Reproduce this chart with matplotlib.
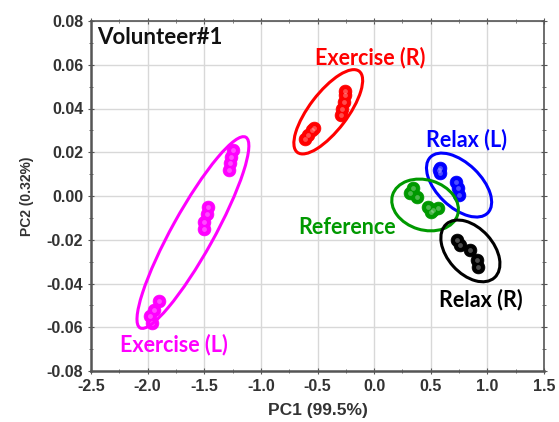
import matplotlib
matplotlib.use("Agg")
import matplotlib.pyplot as plt
import matplotlib.transforms as mtransforms
from matplotlib.patches import Ellipse
import numpy as np

# ---------------- data ----------------
groups = ["Exercise (L)", "Exercise (R)", "Relax (L)", "Reference", "Relax (R)"]
colors = ["#ff00ff", "#ff0000", "#0000ff", "#009900", "#000000"]

exL_x = [-1.25, -1.26, -1.27, -1.28, -1.47, -1.48, -1.50, -1.50, -1.90, -1.94, -1.98, -1.96]
exL_y = [0.021, 0.018, 0.015, 0.012, -0.005, -0.008, -0.012, -0.015, -0.048, -0.052, -0.055, -0.058]

exR_x = [-0.61, -0.58, -0.55, -0.53, -0.29, -0.28, -0.27, -0.26, -0.26]
exR_y = [0.026, 0.028, 0.030, 0.031, 0.037, 0.040, 0.043, 0.046, 0.048]

rlL_x = [0.58, 0.58, 0.57, 0.72, 0.74, 0.75]
rlL_y = [0.013, 0.0105, 0.012, 0.0064, 0.0037, 0.0005]

ref_x = [0.32, 0.34, 0.38, 0.48, 0.52, 0.56, 0.50]
ref_y = [0.0014, 0.0037, -0.0005, -0.005, -0.0064, -0.0055, -0.0072]

rlR_x = [0.73, 0.76, 0.85, 0.91, 0.92]
rlR_y = [-0.020, -0.0224, -0.0247, -0.0293, -0.0325]

xs = [exL_x, exR_x, rlL_x, ref_x, rlR_x]
ys = [exL_y, exR_y, rlL_y, ref_y, rlR_y]

# confidence ellipses: centre (data units)
ell_cx = [-1.60, -0.405, 0.75, 0.45, 0.85]
ell_cy = [-0.0167, 0.0385, 0.005, -0.0041, -0.0251]
# semi-axes in pixels, angle in degrees (screen space)
ell_a = [109, 51, 40, 34, 36]
ell_b = [21, 19, 22, 25, 23]
ell_ang = [61, 52.7, -44, -17, -48]

# label positions
lab_x = [-1.77, -0.036, 0.816, -0.24, 0.944]
lab_y = [-0.0681, 0.0631, 0.0256, -0.0146, -0.0471]

xticks = [-2.5, -2.0, -1.5, -1.0, -0.5, 0.0, 0.5, 1.0, 1.5]
yticks = [-0.08, -0.06, -0.04, -0.02, 0.00, 0.02, 0.04, 0.06, 0.08]

# ---------------- figure ----------------
DPI = 100
fig = plt.figure(figsize=(5.59, 4.22), dpi=DPI)
ax = fig.add_axes([91 / 559, 1 - 371 / 422, 453 / 559, 350 / 422])

ax.set_xlim(-2.5, 1.5)
ax.set_ylim(-0.08, 0.08)
ax.set_xticks(xticks)
ax.set_yticks(yticks)
ax.set_xticks(np.arange(-2.5, 1.51, 0.25), minor=True)
ax.set_yticks(np.arange(-0.08, 0.0801, 0.01), minor=True)
ax.set_xticklabels([f"{v:.1f}" for v in xticks])
ax.set_yticklabels([f"{v:.2f}" for v in yticks])

ax.grid(True, which="major", color="#d8d8d8", linewidth=1.0)
ax.set_axisbelow(True)

for sp in ax.spines.values():
    sp.set_color("#555555")
    sp.set_linewidth(1.2)
ax.spines["left"].set_linewidth(1.8)
ax.spines["bottom"].set_linewidth(1.8)

ax.tick_params(which="both", direction="inout", color="#555555",
               top=True, right=True, labelsize=11.5)
ax.tick_params(which="major", length=4)
ax.tick_params(which="minor", length=3)
for lab in ax.get_xticklabels() + ax.get_yticklabels():
    lab.set_fontfamily("Liberation Sans")
    lab.set_fontweight("bold")
    lab.set_color("#333333")

ax.set_xlabel("PC1 (99.5%)", fontfamily="Liberation Sans", fontweight="bold",
              fontsize=12.5, color="#333333", labelpad=7)
ax.set_ylabel("PC2 (0.32%)", fontfamily="Liberation Sans", fontweight="bold",
              fontsize=10, color="#333333", labelpad=9)

for gx, gy, c in zip(xs, ys, colors):
    ax.scatter(gx, gy, s=85, color=c, edgecolors=c, linewidths=0.5, zorder=3)
    ax.scatter(gx, gy, s=12, color="white", alpha=0.3, linewidths=0, zorder=4)

for cx, cy, a, b, ang, c in zip(ell_cx, ell_cy, ell_a, ell_b, ell_ang, colors):
    tr = fig.dpi_scale_trans + mtransforms.ScaledTranslation(cx, cy, ax.transData)
    e = Ellipse((0, 0), 2 * a / DPI, 2 * b / DPI, angle=ang, transform=tr,
                fill=False, edgecolor=c, linewidth=2.2, zorder=5)
    ax.add_patch(e)

for name, lx, ly, c in zip(groups, lab_x, lab_y, colors):
    ax.text(lx, ly, name, color=c, fontfamily="Lato", fontweight="bold",
            fontsize=15.5, ha="center", va="center", zorder=6)

ax.text(0.013, 0.954, "Volunteer#1", transform=ax.transAxes, color="#111111",
        fontfamily="Lato", fontweight="bold", fontsize=16, ha="left", va="center")

fig.savefig("out.png", dpi=DPI)
